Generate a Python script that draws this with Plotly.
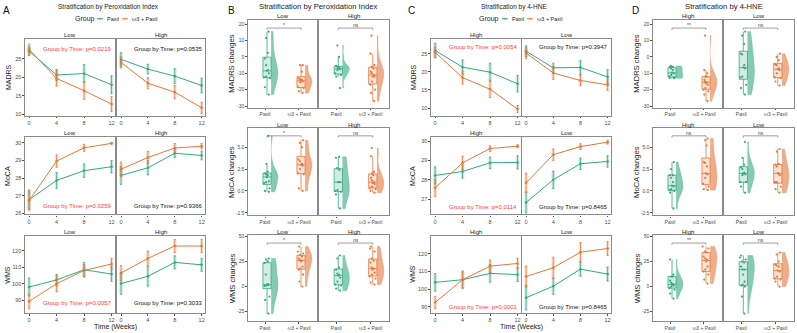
import plotly.graph_objects as go

W, H = 797, 333
FONT = "Liberation Sans, Arial, sans-serif"
GREEN = "#34a982"
ORANGE = "#e5773a"
RED = "#ff3b3b"
BORDER = "#8a8a8a"
TICKC = "#4d4d4d"

GROUPS = ["Paxil", "ω3 + Paxil"]
WEEKS = [0, 4, 8, 12]

# ---------------- Panel A: Stratification by Peroxidation Index (means ± SE) ----------------
A_FACETS = ["Low", "High"]
A_MADRS_LOW_PAX = [27.0, 20.6, 21.0, 18.0]
A_MADRS_LOW_PAX_SE = [1.2, 1.5, 2.4, 2.4]
A_MADRS_LOW_W3 = [27.5, 19.7, 16.4, 12.8]
A_MADRS_LOW_W3_SE = [1.4, 2.1, 2.4, 2.0]
A_MADRS_HIGH_PAX = [24.8, 22.2, 20.3, 17.8]
A_MADRS_HIGH_PAX_SE = [1.8, 1.3, 2.0, 2.0]
A_MADRS_HIGH_W3 = [24.0, 18.4, 16.0, 11.8]
A_MADRS_HIGH_W3_SE = [1.5, 1.5, 1.8, 1.5]

A_MOCA_LOW_PAX = [26.78, 27.87, 28.42, 28.64]
A_MOCA_LOW_PAX_SE = [0.55, 0.45, 0.38, 0.35]
A_MOCA_LOW_W3 = [26.74, 28.96, 29.71, 29.96]
A_MOCA_LOW_W3_SE = [0.55, 0.35, 0.2, 0.05]
A_MOCA_HIGH_PAX = [28.15, 28.58, 29.4, 29.28]
A_MOCA_HIGH_PAX_SE = [0.5, 0.4, 0.25, 0.25]
A_MOCA_HIGH_W3 = [28.5, 29.16, 29.7, 29.8]
A_MOCA_HIGH_W3_SE = [0.4, 0.35, 0.25, 0.15]

A_WMS_LOW_PAX = [98.0, 102.3, 108.5, 105.9]
A_WMS_LOW_PAX_SE = [5.5, 3.5, 4.5, 4.5]
A_WMS_LOW_W3 = [89.2, 100.0, 108.1, 112.0]
A_WMS_LOW_W3_SE = [4.5, 5.0, 3.5, 3.5]
A_WMS_HIGH_PAX = [100.1, 104.5, 113.0, 111.5]
A_WMS_HIGH_PAX_SE = [6.5, 6.0, 4.0, 4.0]
A_WMS_HIGH_W3 = [106.5, 115.4, 123.0, 123.0]
A_WMS_HIGH_W3_SE = [4.5, 4.5, 4.0, 4.0]

A_PVALS = [["0.0219", "0.0535"], ["0.0259", "0.9366"], ["0.0057", "0.3033"]]

# ---------------- Panel C: Stratification by 4-HNE (means ± SE) ----------------
C_FACETS = ["High", "Low"]
C_MADRS_HIGH_PAX = [25.9, 21.3, 19.9, 16.7]
C_MADRS_HIGH_PAX_SE = [2.0, 2.0, 2.5, 2.3]
C_MADRS_HIGH_W3 = [25.4, 18.4, 15.2, 9.7]
C_MADRS_HIGH_W3_SE = [1.5, 1.8, 2.3, 1.0]
C_MADRS_LOW_PAX = [25.7, 21.1, 21.2, 18.6]
C_MADRS_LOW_PAX_SE = [1.5, 1.3, 2.0, 2.0]
C_MADRS_LOW_W3 = [25.2, 19.7, 17.6, 16.4]
C_MADRS_LOW_W3_SE = [1.6, 1.8, 1.5, 1.5]

C_MOCA_HIGH_PAX = [28.22, 28.43, 28.88, 28.9]
C_MOCA_HIGH_PAX_SE = [0.45, 0.35, 0.3, 0.35]
C_MOCA_HIGH_W3 = [27.58, 28.88, 29.62, 29.74]
C_MOCA_HIGH_W3_SE = [0.45, 0.35, 0.15, 0.08]
C_MOCA_LOW_PAX = [26.82, 28.0, 28.83, 28.95]
C_MOCA_LOW_PAX_SE = [0.55, 0.45, 0.3, 0.3]
C_MOCA_LOW_W3 = [27.84, 29.3, 29.72, 29.95]
C_MOCA_LOW_W3_SE = [0.5, 0.3, 0.15, 0.1]

C_WMS_HIGH_PAX = [103.8, 105.3, 108.9, 108.2]
C_WMS_HIGH_PAX_SE = [5.0, 4.5, 5.0, 4.0]
C_WMS_HIGH_W3 = [92.4, 105.3, 113.0, 114.5]
C_WMS_HIGH_W3_SE = [3.5, 5.0, 3.5, 3.0]
C_WMS_LOW_PAX = [95.1, 101.6, 111.3, 108.5]
C_WMS_LOW_PAX_SE = [7.0, 4.5, 4.0, 4.0]
C_WMS_LOW_W3 = [107.1, 112.1, 120.9, 123.0]
C_WMS_LOW_W3_SE = [6.0, 6.0, 5.5, 4.0]

C_PVALS = [["0.0054", "0.3947"], ["0.0114", "0.8465"], ["0.0001", "0.8465"]]

# ---------------- Panel B: change scores by Peroxidation Index ----------------
B_FACETS = ["Low", "High"]
B_MADRS_LOW_PAX = [15.5, 11.5, 2.5, -1, -5, -8, -8.5, -10, -12, -12.5, -13, -18.5, -23]
B_MADRS_LOW_W3 = [-5, -5, -9, -13, -13.5, -14, -14.5, -15, -15.5, -18.5, -19, -21, -22]
B_MADRS_HIGH_PAX = [7, 0, -5.5, -6, -6.5, -7, -7.5, -8, -10, -11, -12, -19]
B_MADRS_HIGH_W3 = [13, 2, -5, -6, -7, -9, -10, -11, -12, -12, -15, -17, -20, -22, -27]
B_MOCA_LOW_PAX = [6.3, 3.1, 2.2, 2.0, 1.9, 1.8, 1.6, 1.1, 1.0, 0.9, 0.3, 0.0, -0.1]
B_MOCA_LOW_W3 = [5.8, 5.5, 5.0, 3.6, 3.4, 3.1, 3.0, 2.9, 2.5, 2.0, 1.9, 0.3, 0.0]
B_MOCA_HIGH_PAX = [3.9, 3.8, 2.6, 2.4, 1.0, 1.0, 0.1, 0.0, -0.1, -0.4, -2.0]
B_MOCA_HIGH_W3 = [4.9, 4.0, 2.2, 2.0, 1.8, 1.5, 1.2, 1.0, 0.9, 0.8, 0.5, 0.3, 0.2, 0.0, -0.2]
B_WMS_LOW_PAX = [28, 27, 25, 23.5, 12, 2.5, 2, 1.5, 1, 0.5, -10, -13.5, -27]
B_WMS_LOW_W3 = [40, 35, 33, 31.5, 30, 28, 27, 26, 25, 20, 18, 17, 12, 5, 0]
B_WMS_HIGH_PAX = [31, 28, 19, 17, 13, 12, 11, 9, 5, 2, 1, -2, -4]
B_WMS_HIGH_W3 = [40, 38, 35, 28, 26, 24, 19, 18, 17, 14, 12, 10, 8, 4, 2]
B_SIG = [["*", "ns"], ["*", "ns"], ["*", "ns"]]

# ---------------- Panel D: change scores by 4-HNE ----------------
D_FACETS = ["High", "Low"]
D_MADRS_HIGH_PAX = [-5.5, -6, -6, -7, -8, -9.5, -10, -11, -12, -12.5, -13, -13]
D_MADRS_HIGH_W3 = [13, -8, -10, -12, -12, -14, -15, -15.5, -16, -17, -19, -20, -21, -23, -27]
D_MADRS_LOW_PAX = [15.5, 13, 8, 2, 1.5, -5, -6.5, -7, -12, -12.5, -17, -19, -23]
D_MADRS_LOW_W3 = [2, 0, -2, -4.5, -5, -7, -7.5, -8, -10, -12.5, -13, -15, -17.5]
D_MOCA_HIGH_PAX = [3.3, 2.5, 1.8, 1.8, 1.5, 1.0, 0.6, 0.5, 0.2, 0.1, 0.0, -0.2, -2.0]
D_MOCA_HIGH_W3 = [6.0, 5.8, 5.2, 3.3, 3.2, 2.8, 2.0, 1.9, 1.5, 0.8, 0.5, 0.2, 0.1]
D_MOCA_LOW_PAX = [5.6, 3.8, 3.0, 2.7, 2.5, 2.1, 2.0, 1.9, 1.8, 1.0, 1.0, 0.5, -0.2]
D_MOCA_LOW_W3 = [4.8, 4.5, 3.1, 3.0, 2.8, 2.0, 2.0, 1.8, 1.0, 1.0, 0.5, 0.2, -0.2]
D_WMS_HIGH_PAX = [27, 12, 10, 10, 6, 4, 2.5, 2, 1, 0, -1.5, -3, -7, -12]
D_WMS_HIGH_W3 = [40, 38, 35, 34, 30, 28, 27, 25, 20, 17, 15, 12, 7, 3]
D_WMS_LOW_PAX = [31, 29, 27, 25, 24, 20, 17, 17, 12, 5, 2, 1, 0, -10, -27]
D_WMS_LOW_W3 = [34, 32, 25, 22, 21, 20, 16, 15, 10, 8, 7, 5, 0]
D_SIG = [["**", "ns"], ["ns", "ns"], ["**", "ns"]]

LINE_YLABELS = ["MADRS", "MoCA", "WMS"]
CHANGE_YLABELS = ["MADRS changes", "MoCA changes", "WMS changes"]

# ---------------- helpers ----------------
fig = go.Figure()
layout = {}
annotations = []
shapes = []
counter = [0]


def fx(px):
    return px / W


def fy(py):
    return 1 - py / H


def rgba(hexc, a):
    h = hexc.lstrip("#")
    r, g, b = int(h[0:2], 16), int(h[2:4], 16), int(h[4:6], 16)
    return f"rgba({r},{g},{b},{a})"


def new_axes(box, xrange, yrange, xtickvals, xticktext, ytickvals, yticktext, show_y, tfs):
    counter[0] += 1
    n = counter[0]
    s = "" if n == 1 else str(n)
    x0, x1, y0, y1 = box
    common = dict(showline=True, mirror=True, linecolor=BORDER, linewidth=1.3,
                  ticks="outside", ticklen=1.5, tickwidth=0.6, tickcolor=TICKC,
                  showgrid=False, zeroline=False,
                  tickfont=dict(size=tfs, color=TICKC, family=FONT))
    layout[f"xaxis{s}"] = dict(common, domain=[fx(x0), fx(x1)], anchor=f"y{s}", range=xrange,
                               type="linear", tickmode="array", tickvals=xtickvals,
                               ticktext=xticktext)
    yax = dict(common, domain=[fy(y1), fy(y0)], anchor=f"x{s}", range=yrange,
               tickmode="array", tickvals=ytickvals, ticktext=yticktext)
    if not show_y:
        yax["showticklabels"] = False
        yax["ticks"] = ""
    layout[f"yaxis{s}"] = yax
    return f"x{s}", f"y{s}"


def text(x, y, t, size, color="#222", angle=0, xanchor="center", yanchor="middle", xref="paper", yref="paper"):
    annotations.append(dict(x=x, y=y, xref=xref, yref=yref, text=t, showarrow=False,
                            font=dict(size=size, color=color, family=FONT), textangle=angle,
                            xanchor=xanchor, yanchor=yanchor, borderpad=0))


def add_line_facet(xa, ya, series):
    for vals, se, col in series:
        fig.add_trace(go.Scatter(x=WEEKS, y=vals, mode="markers", xaxis=xa, yaxis=ya,
                                 marker=dict(size=1, color="rgba(0,0,0,0)"),
                                 error_y=dict(type="data", array=se, color=rgba(col, 0.22),
                                              thickness=3.5, width=0),
                                 hoverinfo="skip", showlegend=False))
        fig.add_trace(go.Scatter(x=WEEKS, y=vals, mode="lines+markers", xaxis=xa, yaxis=ya,
                                 line=dict(color=col, width=1),
                                 marker=dict(size=2.5, color=col),
                                 error_y=dict(type="data", array=se, color=col,
                                              thickness=0.8, width=1),
                                 showlegend=False))


def add_rain(xa, ya, pos, vals, col):
    fig.add_trace(go.Violin(y=vals, x0=pos + 0.12, xaxis=xa, yaxis=ya, side="positive",
                            width=0.4, spanmode="hard", points=False,
                            fillcolor=rgba(col, 0.6), line=dict(color=rgba(col, 0.6), width=0.5),
                            box_visible=False, meanline_visible=False,
                            showlegend=False, hoverinfo="skip"))
    fig.add_trace(go.Box(y=vals, x0=pos, xaxis=xa, yaxis=ya, width=0.24,
                         boxpoints="all", jitter=0.9, pointpos=0, whiskerwidth=0,
                         marker=dict(color=col, size=2.2),
                         line=dict(color=col, width=0.8), fillcolor=rgba(col, 0.22),
                         showlegend=False, hoverinfo="skip"))


# ---------------- layout geometry (pixels) ----------------
LINE_ROWS = [(37, 115), (137, 215), (237, 315)]
RAIN_ROWS = [(18, 107), (128, 216), (236, 323)]
A_COLS = [(25, 115), (117, 205)]
C_COLS = [(431, 521), (522, 611)]
B_COLS = [(248, 317), (319, 389)]
D_COLS = [(653, 722), (724, 794)]

A_YR = [[9.7, 30.4], [25.95, 30.3], [82, 129]]
C_YR = [[7.9, 29.2], [26.2, 30.2], [86.3, 130]]
A_YT = [[10, 15, 20, 25], [26, 27, 28, 29, 30], [90, 100, 110, 120]]
C_YT = [[10, 15, 20, 25], [27, 28, 29, 30], [90, 100, 110, 120]]
R_YR = [[-31, 22.7], [-2.8, 7.15], [-34.5, 51.3]]
R_YT = [[-30, -20, -10, 0, 10, 20], [-2.5, 0, 2.5, 5], [-25, 0, 25, 50]]
R_YTT = [["-30", "-20", "-10", "0", "10", "20"], ["-2.5", "0.0", "2.5", "5.0"], ["-25", "0", "25", "50"]]
PTXT_FRAC = [[0.86, 0.115, 0.127], [0.89, 0.095, 0.085]]

A_DATA = [
    [(A_MADRS_LOW_PAX, A_MADRS_LOW_PAX_SE, A_MADRS_LOW_W3, A_MADRS_LOW_W3_SE),
     (A_MADRS_HIGH_PAX, A_MADRS_HIGH_PAX_SE, A_MADRS_HIGH_W3, A_MADRS_HIGH_W3_SE)],
    [(A_MOCA_LOW_PAX, A_MOCA_LOW_PAX_SE, A_MOCA_LOW_W3, A_MOCA_LOW_W3_SE),
     (A_MOCA_HIGH_PAX, A_MOCA_HIGH_PAX_SE, A_MOCA_HIGH_W3, A_MOCA_HIGH_W3_SE)],
    [(A_WMS_LOW_PAX, A_WMS_LOW_PAX_SE, A_WMS_LOW_W3, A_WMS_LOW_W3_SE),
     (A_WMS_HIGH_PAX, A_WMS_HIGH_PAX_SE, A_WMS_HIGH_W3, A_WMS_HIGH_W3_SE)],
]
C_DATA = [
    [(C_MADRS_HIGH_PAX, C_MADRS_HIGH_PAX_SE, C_MADRS_HIGH_W3, C_MADRS_HIGH_W3_SE),
     (C_MADRS_LOW_PAX, C_MADRS_LOW_PAX_SE, C_MADRS_LOW_W3, C_MADRS_LOW_W3_SE)],
    [(C_MOCA_HIGH_PAX, C_MOCA_HIGH_PAX_SE, C_MOCA_HIGH_W3, C_MOCA_HIGH_W3_SE),
     (C_MOCA_LOW_PAX, C_MOCA_LOW_PAX_SE, C_MOCA_LOW_W3, C_MOCA_LOW_W3_SE)],
    [(C_WMS_HIGH_PAX, C_WMS_HIGH_PAX_SE, C_WMS_HIGH_W3, C_WMS_HIGH_W3_SE),
     (C_WMS_LOW_PAX, C_WMS_LOW_PAX_SE, C_WMS_LOW_W3, C_WMS_LOW_W3_SE)],
]
B_DATA = [
    [(B_MADRS_LOW_PAX, B_MADRS_LOW_W3), (B_MADRS_HIGH_PAX, B_MADRS_HIGH_W3)],
    [(B_MOCA_LOW_PAX, B_MOCA_LOW_W3), (B_MOCA_HIGH_PAX, B_MOCA_HIGH_W3)],
    [(B_WMS_LOW_PAX, B_WMS_LOW_W3), (B_WMS_HIGH_PAX, B_WMS_HIGH_W3)],
]
D_DATA = [
    [(D_MADRS_HIGH_PAX, D_MADRS_HIGH_W3), (D_MADRS_LOW_PAX, D_MADRS_LOW_W3)],
    [(D_MOCA_HIGH_PAX, D_MOCA_HIGH_W3), (D_MOCA_LOW_PAX, D_MOCA_LOW_W3)],
    [(D_WMS_HIGH_PAX, D_WMS_HIGH_W3), (D_WMS_LOW_PAX, D_WMS_LOW_W3)],
]


def build_line_panel(cols, facets, data, yr, yt, pvals, fracs, ytitle_x):
    for r, (top, bot) in enumerate(LINE_ROWS):
        for c, (left, right) in enumerate(cols):
            xa, ya = new_axes((left, right, top, bot), [-0.6, 12.5], yr[r],
                              WEEKS, [str(w) for w in WEEKS], yt[r], [str(v) for v in yt[r]],
                              c == 0, 5.5)
            pax, pax_se, w3, w3_se = data[r][c]
            add_line_facet(xa, ya, [(pax, pax_se, GREEN), (w3, w3_se, ORANGE)])
            text(fx((left + right) / 2), fy(top - 4), facets[c], 6)
            p = pvals[r][c]
            col = RED if float(p) < 0.05 else "#111"
            text(7, fracs[r], f"Group by Time: p={p}", 6, color=col, xref=xa, yref=ya + " domain")
        text(fx(ytitle_x), fy((top + bot) / 2), LINE_YLABELS[r], 7, angle=-90)
    text(fx((cols[0][0] + cols[1][1]) / 2), fy(328.5), "Time (Weeks)", 7)


def build_rain_panel(cols, facets, data, sigs, ytitle_x):
    for r, (top, bot) in enumerate(RAIN_ROWS):
        row_vals = [v for facet in data[r] for grp in facet for v in grp]
        span = R_YR[r][1] - R_YR[r][0]
        ybr = min(max(row_vals) + 0.04 * span, R_YR[r][1] - 0.085 * span)
        tip = 0.02 * span
        for c, (left, right) in enumerate(cols):
            xa, ya = new_axes((left, right, top, bot), [0.5, 2.53], R_YR[r],
                              [1, 2], GROUPS, R_YT[r], R_YTT[r], c == 0, 5)
            pax, w3 = data[r][c]
            add_rain(xa, ya, 1.06, pax, GREEN)
            add_rain(xa, ya, 2.06, w3, ORANGE)
            shapes.append(dict(type="path", xref=xa, yref=ya,
                               path=f"M 1.06 {ybr - tip} L 1.06 {ybr} L 2.06 {ybr} L 2.06 {ybr - tip}",
                               line=dict(color="#888", width=0.8)))
            text(1.56, ybr + 0.035 * span, sigs[r][c], 5, color="#444", xref=xa, yref=ya)
            text(fx((left + right) / 2), fy(top - 3.5), facets[c], 6)
        text(fx(ytitle_x), fy((top + bot) / 2), CHANGE_YLABELS[r], 7.6, angle=-90)


build_line_panel(A_COLS, A_FACETS, A_DATA, A_YR, A_YT, A_PVALS, PTXT_FRAC[0], 8)
build_rain_panel(B_COLS, B_FACETS, B_DATA, B_SIG, 232)
build_line_panel(C_COLS, C_FACETS, C_DATA, C_YR, C_YT, C_PVALS, PTXT_FRAC[1], 413)
build_rain_panel(D_COLS, D_FACETS, D_DATA, D_SIG, 637)

# titles and panel letters
text(fx(2), fy(9), "A", 10, color="#111", xanchor="left")
text(fx(227), fy(9), "B", 10, color="#111", xanchor="left")
text(fx(407), fy(9), "C", 10, color="#111", xanchor="left")
text(fx(631), fy(9), "D", 10, color="#111", xanchor="left")
text(fx(108), fy(5), "Stratification by Peroxidation Index", 6.5, color="#222")
text(fx(318), fy(5), "Stratification by Peroxidation Index", 7.7, color="#222")
text(fx(514), fy(5), "Stratification by 4-HNE", 6.5, color="#222")
text(fx(724), fy(5), "Stratification by 4-HNE", 7.7, color="#222")


# manual legends
def legend(x_group, x_pax, x_w3, y):
    text(fx(x_group), fy(y), "Group", 7, color="#222", xanchor="left")
    for x0, col, lab in [(x_pax, GREEN, GROUPS[0]), (x_w3, ORANGE, GROUPS[1])]:
        shapes.append(dict(type="line", xref="paper", yref="paper", x0=fx(x0), x1=fx(x0 + 6),
                           y0=fy(y), y1=fy(y), line=dict(color=col, width=1)))
        shapes.append(dict(type="line", xref="paper", yref="paper", x0=fx(x0 + 3), x1=fx(x0 + 3),
                           y0=fy(y - 1.3), y1=fy(y + 1.3), line=dict(color=col, width=0.8)))
        text(fx(x0 + 8.5), fy(y), lab, 5.5, color="#222", xanchor="left")


legend(74, 97, 122, 17)
legend(478, 502, 527, 17)

layout.update(dict(width=W, height=H, margin=dict(l=0, r=0, t=0, b=0),
                   plot_bgcolor="white", paper_bgcolor="white", showlegend=False,
                   annotations=annotations, shapes=shapes, boxmode="overlay", violinmode="overlay",
                   font=dict(family=FONT)))
fig.update_layout(**layout)
fig.write_html("out.html", config={"displayModeBar": False},
               post_script="document.body.style.margin='0px';")
